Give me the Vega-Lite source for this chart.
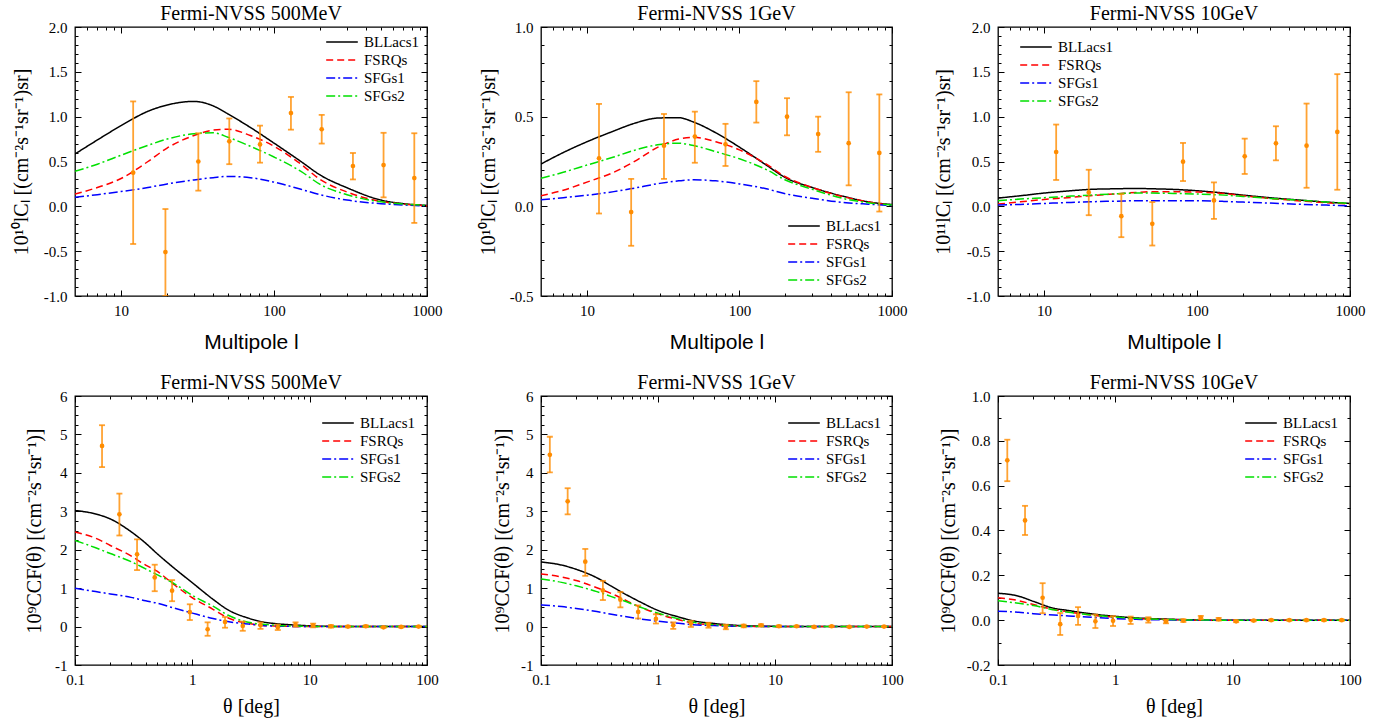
{
"$schema": "https://vega.github.io/schema/vega-lite/v6.json",
"background": "white",
"padding": {"left": 10, "top": 3, "right": 5, "bottom": 2},
"config": {
  "view": {"stroke": "black", "strokeWidth": 1.3},
  "font": "Liberation Serif",
  "title": {"font": "Liberation Serif", "fontSize": 20, "fontWeight": "normal", "color": "black", "offset": -4, "frame": "group"},
  "axis": {"labelFont": "Liberation Serif", "labelFontSize": 15, "labelColor": "black", "tickColor": "black", "tickWidth": 1, "domain": false, "grid": false, "titleFont": "Liberation Serif", "titleFontSize": 20, "titleFontWeight": "normal", "titleColor": "black", "labelFlush": false, "labelOverlap": false, "labelBound": false},
  "legend": {"title": null, "orient": "none", "symbolType": "stroke", "symbolSize": 1000, "symbolStrokeWidth": 1.5, "labelFont": "Liberation Serif", "labelFontSize": 15, "labelColor": "black", "clipHeight": 16, "rowPadding": 2, "labelOffset": 5, "padding": 0}
},
"datasets": {
"c1": [
{"x":5,"v":0.584,"m":"BLLacs1"},{"x":7,"v":0.74,"m":"BLLacs1"},{"x":10,"v":0.90,"m":"BLLacs1"},{"x":15,"v":1.06,"m":"BLLacs1"},{"x":20,"v":1.13,"m":"BLLacs1"},{"x":30,"v":1.17,"m":"BLLacs1"},{"x":40,"v":1.12,"m":"BLLacs1"},{"x":50,"v":1.03,"m":"BLLacs1"},{"x":70,"v":0.88,"m":"BLLacs1"},{"x":100,"v":0.705,"m":"BLLacs1"},{"x":150,"v":0.50,"m":"BLLacs1"},{"x":200,"v":0.35,"m":"BLLacs1"},{"x":300,"v":0.207,"m":"BLLacs1"},{"x":500,"v":0.07,"m":"BLLacs1"},{"x":700,"v":0.03,"m":"BLLacs1"},{"x":1000,"v":0.01,"m":"BLLacs1"},
{"x":5,"v":0.136,"m":"FSRQs"},{"x":7,"v":0.21,"m":"FSRQs"},{"x":10,"v":0.31,"m":"FSRQs"},{"x":15,"v":0.50,"m":"FSRQs"},{"x":20,"v":0.65,"m":"FSRQs"},{"x":30,"v":0.79,"m":"FSRQs"},{"x":40,"v":0.85,"m":"FSRQs"},{"x":50,"v":0.86,"m":"FSRQs"},{"x":70,"v":0.79,"m":"FSRQs"},{"x":100,"v":0.67,"m":"FSRQs"},{"x":150,"v":0.47,"m":"FSRQs"},{"x":200,"v":0.30,"m":"FSRQs"},{"x":300,"v":0.16,"m":"FSRQs"},{"x":500,"v":0.055,"m":"FSRQs"},{"x":700,"v":0.025,"m":"FSRQs"},{"x":1000,"v":0.005,"m":"FSRQs"},
{"x":5,"v":0.10,"m":"SFGs1"},{"x":7,"v":0.13,"m":"SFGs1"},{"x":10,"v":0.165,"m":"SFGs1"},{"x":15,"v":0.21,"m":"SFGs1"},{"x":20,"v":0.25,"m":"SFGs1"},{"x":30,"v":0.295,"m":"SFGs1"},{"x":40,"v":0.32,"m":"SFGs1"},{"x":50,"v":0.334,"m":"SFGs1"},{"x":70,"v":0.32,"m":"SFGs1"},{"x":100,"v":0.27,"m":"SFGs1"},{"x":150,"v":0.19,"m":"SFGs1"},{"x":200,"v":0.13,"m":"SFGs1"},{"x":300,"v":0.07,"m":"SFGs1"},{"x":500,"v":0.03,"m":"SFGs1"},{"x":700,"v":0.015,"m":"SFGs1"},{"x":1000,"v":0.005,"m":"SFGs1"},
{"x":5,"v":0.39,"m":"SFGs2"},{"x":7,"v":0.47,"m":"SFGs2"},{"x":10,"v":0.57,"m":"SFGs2"},{"x":15,"v":0.68,"m":"SFGs2"},{"x":20,"v":0.75,"m":"SFGs2"},{"x":30,"v":0.81,"m":"SFGs2"},{"x":40,"v":0.82,"m":"SFGs2"},{"x":50,"v":0.77,"m":"SFGs2"},{"x":70,"v":0.67,"m":"SFGs2"},{"x":100,"v":0.55,"m":"SFGs2"},{"x":150,"v":0.39,"m":"SFGs2"},{"x":200,"v":0.245,"m":"SFGs2"},{"x":300,"v":0.13,"m":"SFGs2"},{"x":500,"v":0.05,"m":"SFGs2"},{"x":700,"v":0.025,"m":"SFGs2"},{"x":1000,"v":0.01,"m":"SFGs2"}
],
"c2": [
{"x":5,"v":0.236,"m":"BLLacs1"},{"x":7,"v":0.30,"m":"BLLacs1"},{"x":10,"v":0.36,"m":"BLLacs1"},{"x":15,"v":0.42,"m":"BLLacs1"},{"x":20,"v":0.46,"m":"BLLacs1"},{"x":30,"v":0.493,"m":"BLLacs1"},{"x":40,"v":0.494,"m":"BLLacs1"},{"x":50,"v":0.47,"m":"BLLacs1"},{"x":70,"v":0.41,"m":"BLLacs1"},{"x":100,"v":0.33,"m":"BLLacs1"},{"x":150,"v":0.23,"m":"BLLacs1"},{"x":200,"v":0.16,"m":"BLLacs1"},{"x":300,"v":0.105,"m":"BLLacs1"},{"x":500,"v":0.052,"m":"BLLacs1"},{"x":700,"v":0.025,"m":"BLLacs1"},{"x":1000,"v":0.01,"m":"BLLacs1"},
{"x":5,"v":0.059,"m":"FSRQs"},{"x":7,"v":0.09,"m":"FSRQs"},{"x":10,"v":0.135,"m":"FSRQs"},{"x":15,"v":0.19,"m":"FSRQs"},{"x":20,"v":0.245,"m":"FSRQs"},{"x":30,"v":0.335,"m":"FSRQs"},{"x":40,"v":0.375,"m":"FSRQs"},{"x":50,"v":0.385,"m":"FSRQs"},{"x":70,"v":0.36,"m":"FSRQs"},{"x":100,"v":0.315,"m":"FSRQs"},{"x":150,"v":0.235,"m":"FSRQs"},{"x":200,"v":0.165,"m":"FSRQs"},{"x":300,"v":0.105,"m":"FSRQs"},{"x":500,"v":0.05,"m":"FSRQs"},{"x":700,"v":0.025,"m":"FSRQs"},{"x":1000,"v":0.005,"m":"FSRQs"},
{"x":5,"v":0.036,"m":"SFGs1"},{"x":7,"v":0.048,"m":"SFGs1"},{"x":10,"v":0.062,"m":"SFGs1"},{"x":15,"v":0.082,"m":"SFGs1"},{"x":20,"v":0.10,"m":"SFGs1"},{"x":30,"v":0.128,"m":"SFGs1"},{"x":40,"v":0.142,"m":"SFGs1"},{"x":50,"v":0.148,"m":"SFGs1"},{"x":70,"v":0.142,"m":"SFGs1"},{"x":100,"v":0.125,"m":"SFGs1"},{"x":150,"v":0.098,"m":"SFGs1"},{"x":200,"v":0.07,"m":"SFGs1"},{"x":300,"v":0.045,"m":"SFGs1"},{"x":500,"v":0.02,"m":"SFGs1"},{"x":700,"v":0.012,"m":"SFGs1"},{"x":1000,"v":0.005,"m":"SFGs1"},
{"x":5,"v":0.156,"m":"SFGs2"},{"x":7,"v":0.19,"m":"SFGs2"},{"x":10,"v":0.23,"m":"SFGs2"},{"x":15,"v":0.275,"m":"SFGs2"},{"x":20,"v":0.31,"m":"SFGs2"},{"x":30,"v":0.345,"m":"SFGs2"},{"x":40,"v":0.352,"m":"SFGs2"},{"x":50,"v":0.339,"m":"SFGs2"},{"x":70,"v":0.305,"m":"SFGs2"},{"x":100,"v":0.265,"m":"SFGs2"},{"x":150,"v":0.205,"m":"SFGs2"},{"x":200,"v":0.147,"m":"SFGs2"},{"x":300,"v":0.095,"m":"SFGs2"},{"x":500,"v":0.04,"m":"SFGs2"},{"x":700,"v":0.02,"m":"SFGs2"},{"x":1000,"v":0.007,"m":"SFGs2"}
],
"c3": [
{"x":5,"v":0.092,"m":"BLLacs1"},{"x":7,"v":0.118,"m":"BLLacs1"},{"x":10,"v":0.148,"m":"BLLacs1"},{"x":15,"v":0.174,"m":"BLLacs1"},{"x":20,"v":0.189,"m":"BLLacs1"},{"x":30,"v":0.196,"m":"BLLacs1"},{"x":40,"v":0.2,"m":"BLLacs1"},{"x":50,"v":0.196,"m":"BLLacs1"},{"x":70,"v":0.189,"m":"BLLacs1"},{"x":100,"v":0.174,"m":"BLLacs1"},{"x":150,"v":0.148,"m":"BLLacs1"},{"x":200,"v":0.125,"m":"BLLacs1"},{"x":300,"v":0.096,"m":"BLLacs1"},{"x":500,"v":0.066,"m":"BLLacs1"},{"x":700,"v":0.047,"m":"BLLacs1"},{"x":1000,"v":0.032,"m":"BLLacs1"},
{"x":5,"v":0.025,"m":"FSRQs"},{"x":7,"v":0.05,"m":"FSRQs"},{"x":10,"v":0.077,"m":"FSRQs"},{"x":15,"v":0.1,"m":"FSRQs"},{"x":20,"v":0.118,"m":"FSRQs"},{"x":30,"v":0.14,"m":"FSRQs"},{"x":40,"v":0.155,"m":"FSRQs"},{"x":50,"v":0.163,"m":"FSRQs"},{"x":70,"v":0.163,"m":"FSRQs"},{"x":100,"v":0.159,"m":"FSRQs"},{"x":150,"v":0.144,"m":"FSRQs"},{"x":200,"v":0.118,"m":"FSRQs"},{"x":300,"v":0.088,"m":"FSRQs"},{"x":500,"v":0.058,"m":"FSRQs"},{"x":700,"v":0.04,"m":"FSRQs"},{"x":1000,"v":0.028,"m":"FSRQs"},
{"x":5,"v":0.014,"m":"SFGs1"},{"x":7,"v":0.021,"m":"SFGs1"},{"x":10,"v":0.032,"m":"SFGs1"},{"x":15,"v":0.044,"m":"SFGs1"},{"x":20,"v":0.051,"m":"SFGs1"},{"x":30,"v":0.058,"m":"SFGs1"},{"x":40,"v":0.062,"m":"SFGs1"},{"x":50,"v":0.062,"m":"SFGs1"},{"x":70,"v":0.062,"m":"SFGs1"},{"x":100,"v":0.062,"m":"SFGs1"},{"x":150,"v":0.055,"m":"SFGs1"},{"x":200,"v":0.047,"m":"SFGs1"},{"x":300,"v":0.036,"m":"SFGs1"},{"x":500,"v":0.021,"m":"SFGs1"},{"x":700,"v":0.014,"m":"SFGs1"},{"x":1000,"v":0.006,"m":"SFGs1"},
{"x":5,"v":0.062,"m":"SFGs2"},{"x":7,"v":0.081,"m":"SFGs2"},{"x":10,"v":0.096,"m":"SFGs2"},{"x":15,"v":0.114,"m":"SFGs2"},{"x":20,"v":0.125,"m":"SFGs2"},{"x":30,"v":0.14,"m":"SFGs2"},{"x":40,"v":0.148,"m":"SFGs2"},{"x":50,"v":0.148,"m":"SFGs2"},{"x":70,"v":0.144,"m":"SFGs2"},{"x":100,"v":0.137,"m":"SFGs2"},{"x":150,"v":0.125,"m":"SFGs2"},{"x":200,"v":0.11,"m":"SFGs2"},{"x":300,"v":0.088,"m":"SFGs2"},{"x":500,"v":0.066,"m":"SFGs2"},{"x":700,"v":0.047,"m":"SFGs2"},{"x":1000,"v":0.032,"m":"SFGs2"}
],
"c4": [
{"x":0.1,"v":3.02,"m":"BLLacs1"},{"x":0.15,"v":2.93,"m":"BLLacs1"},{"x":0.2,"v":2.80,"m":"BLLacs1"},{"x":0.3,"v":2.47,"m":"BLLacs1"},{"x":0.4,"v":2.17,"m":"BLLacs1"},{"x":0.5,"v":1.90,"m":"BLLacs1"},{"x":0.7,"v":1.52,"m":"BLLacs1"},{"x":1,"v":1.14,"m":"BLLacs1"},{"x":1.5,"v":0.71,"m":"BLLacs1"},{"x":2,"v":0.44,"m":"BLLacs1"},{"x":3,"v":0.22,"m":"BLLacs1"},{"x":4,"v":0.12,"m":"BLLacs1"},{"x":5,"v":0.08,"m":"BLLacs1"},{"x":7,"v":0.045,"m":"BLLacs1"},{"x":10,"v":0.02,"m":"BLLacs1"},{"x":20,"v":0,"m":"BLLacs1"},{"x":100,"v":0,"m":"BLLacs1"},
{"x":0.1,"v":2.46,"m":"FSRQs"},{"x":0.15,"v":2.30,"m":"FSRQs"},{"x":0.2,"v":2.11,"m":"FSRQs"},{"x":0.3,"v":1.84,"m":"FSRQs"},{"x":0.4,"v":1.60,"m":"FSRQs"},{"x":0.5,"v":1.44,"m":"FSRQs"},{"x":0.7,"v":1.09,"m":"FSRQs"},{"x":1,"v":0.75,"m":"FSRQs"},{"x":1.5,"v":0.45,"m":"FSRQs"},{"x":2,"v":0.23,"m":"FSRQs"},{"x":3,"v":0.08,"m":"FSRQs"},{"x":4,"v":0.03,"m":"FSRQs"},{"x":5,"v":0.015,"m":"FSRQs"},{"x":7,"v":0.005,"m":"FSRQs"},{"x":10,"v":0,"m":"FSRQs"},{"x":20,"v":0,"m":"FSRQs"},{"x":100,"v":0,"m":"FSRQs"},
{"x":0.1,"v":1.0,"m":"SFGs1"},{"x":0.15,"v":0.91,"m":"SFGs1"},{"x":0.2,"v":0.85,"m":"SFGs1"},{"x":0.3,"v":0.76,"m":"SFGs1"},{"x":0.4,"v":0.67,"m":"SFGs1"},{"x":0.5,"v":0.61,"m":"SFGs1"},{"x":0.7,"v":0.48,"m":"SFGs1"},{"x":1,"v":0.35,"m":"SFGs1"},{"x":1.5,"v":0.21,"m":"SFGs1"},{"x":2,"v":0.13,"m":"SFGs1"},{"x":3,"v":0.065,"m":"SFGs1"},{"x":4,"v":0.03,"m":"SFGs1"},{"x":5,"v":0.015,"m":"SFGs1"},{"x":7,"v":0.005,"m":"SFGs1"},{"x":10,"v":0,"m":"SFGs1"},{"x":20,"v":0,"m":"SFGs1"},{"x":100,"v":0,"m":"SFGs1"},
{"x":0.1,"v":2.24,"m":"SFGs2"},{"x":0.15,"v":2.05,"m":"SFGs2"},{"x":0.2,"v":1.90,"m":"SFGs2"},{"x":0.3,"v":1.69,"m":"SFGs2"},{"x":0.4,"v":1.50,"m":"SFGs2"},{"x":0.5,"v":1.35,"m":"SFGs2"},{"x":0.7,"v":1.12,"m":"SFGs2"},{"x":1,"v":0.81,"m":"SFGs2"},{"x":1.5,"v":0.53,"m":"SFGs2"},{"x":2,"v":0.30,"m":"SFGs2"},{"x":3,"v":0.11,"m":"SFGs2"},{"x":4,"v":0.06,"m":"SFGs2"},{"x":5,"v":0.035,"m":"SFGs2"},{"x":7,"v":0.015,"m":"SFGs2"},{"x":10,"v":0.005,"m":"SFGs2"},{"x":20,"v":0,"m":"SFGs2"},{"x":100,"v":0,"m":"SFGs2"}
],
"c5": [
{"x":0.1,"v":1.68,"m":"BLLacs1"},{"x":0.15,"v":1.60,"m":"BLLacs1"},{"x":0.2,"v":1.49,"m":"BLLacs1"},{"x":0.3,"v":1.27,"m":"BLLacs1"},{"x":0.4,"v":1.05,"m":"BLLacs1"},{"x":0.5,"v":0.88,"m":"BLLacs1"},{"x":0.7,"v":0.645,"m":"BLLacs1"},{"x":1,"v":0.42,"m":"BLLacs1"},{"x":1.5,"v":0.25,"m":"BLLacs1"},{"x":2,"v":0.15,"m":"BLLacs1"},{"x":3,"v":0.08,"m":"BLLacs1"},{"x":4,"v":0.045,"m":"BLLacs1"},{"x":5,"v":0.027,"m":"BLLacs1"},{"x":7,"v":0.012,"m":"BLLacs1"},{"x":10,"v":0.005,"m":"BLLacs1"},{"x":20,"v":0,"m":"BLLacs1"},{"x":100,"v":0,"m":"BLLacs1"},
{"x":0.1,"v":1.37,"m":"FSRQs"},{"x":0.15,"v":1.29,"m":"FSRQs"},{"x":0.2,"v":1.20,"m":"FSRQs"},{"x":0.3,"v":1.01,"m":"FSRQs"},{"x":0.4,"v":0.86,"m":"FSRQs"},{"x":0.5,"v":0.72,"m":"FSRQs"},{"x":0.7,"v":0.51,"m":"FSRQs"},{"x":1,"v":0.33,"m":"FSRQs"},{"x":1.5,"v":0.18,"m":"FSRQs"},{"x":2,"v":0.09,"m":"FSRQs"},{"x":3,"v":0.045,"m":"FSRQs"},{"x":4,"v":0.02,"m":"FSRQs"},{"x":5,"v":0.01,"m":"FSRQs"},{"x":7,"v":0.004,"m":"FSRQs"},{"x":10,"v":0,"m":"FSRQs"},{"x":20,"v":0,"m":"FSRQs"},{"x":100,"v":0,"m":"FSRQs"},
{"x":0.1,"v":0.565,"m":"SFGs1"},{"x":0.15,"v":0.52,"m":"SFGs1"},{"x":0.2,"v":0.47,"m":"SFGs1"},{"x":0.3,"v":0.39,"m":"SFGs1"},{"x":0.4,"v":0.32,"m":"SFGs1"},{"x":0.5,"v":0.27,"m":"SFGs1"},{"x":0.7,"v":0.20,"m":"SFGs1"},{"x":1,"v":0.14,"m":"SFGs1"},{"x":1.5,"v":0.085,"m":"SFGs1"},{"x":2,"v":0.048,"m":"SFGs1"},{"x":3,"v":0.025,"m":"SFGs1"},{"x":4,"v":0.012,"m":"SFGs1"},{"x":5,"v":0.006,"m":"SFGs1"},{"x":7,"v":0.002,"m":"SFGs1"},{"x":10,"v":0,"m":"SFGs1"},{"x":20,"v":0,"m":"SFGs1"},{"x":100,"v":0,"m":"SFGs1"},
{"x":0.1,"v":1.24,"m":"SFGs2"},{"x":0.15,"v":1.15,"m":"SFGs2"},{"x":0.2,"v":1.06,"m":"SFGs2"},{"x":0.3,"v":0.91,"m":"SFGs2"},{"x":0.4,"v":0.78,"m":"SFGs2"},{"x":0.5,"v":0.68,"m":"SFGs2"},{"x":0.7,"v":0.51,"m":"SFGs2"},{"x":1,"v":0.35,"m":"SFGs2"},{"x":1.5,"v":0.20,"m":"SFGs2"},{"x":2,"v":0.11,"m":"SFGs2"},{"x":3,"v":0.05,"m":"SFGs2"},{"x":4,"v":0.025,"m":"SFGs2"},{"x":5,"v":0.015,"m":"SFGs2"},{"x":7,"v":0.006,"m":"SFGs2"},{"x":10,"v":0.002,"m":"SFGs2"},{"x":20,"v":0,"m":"SFGs2"},{"x":100,"v":0,"m":"SFGs2"}
],
"c6": [
{"x":0.1,"v":0.12,"m":"BLLacs1"},{"x":0.15,"v":0.107,"m":"BLLacs1"},{"x":0.2,"v":0.084,"m":"BLLacs1"},{"x":0.3,"v":0.053,"m":"BLLacs1"},{"x":0.4,"v":0.043,"m":"BLLacs1"},{"x":0.5,"v":0.035,"m":"BLLacs1"},{"x":0.7,"v":0.025,"m":"BLLacs1"},{"x":1,"v":0.017,"m":"BLLacs1"},{"x":1.5,"v":0.01,"m":"BLLacs1"},{"x":2,"v":0.007,"m":"BLLacs1"},{"x":3,"v":0.004,"m":"BLLacs1"},{"x":4,"v":0.002,"m":"BLLacs1"},{"x":5,"v":0.001,"m":"BLLacs1"},{"x":7,"v":0,"m":"BLLacs1"},{"x":10,"v":0,"m":"BLLacs1"},{"x":20,"v":0,"m":"BLLacs1"},{"x":100,"v":0,"m":"BLLacs1"},
{"x":0.1,"v":0.10,"m":"FSRQs"},{"x":0.15,"v":0.087,"m":"FSRQs"},{"x":0.2,"v":0.07,"m":"FSRQs"},{"x":0.3,"v":0.047,"m":"FSRQs"},{"x":0.4,"v":0.037,"m":"FSRQs"},{"x":0.5,"v":0.029,"m":"FSRQs"},{"x":0.7,"v":0.02,"m":"FSRQs"},{"x":1,"v":0.013,"m":"FSRQs"},{"x":1.5,"v":0.007,"m":"FSRQs"},{"x":2,"v":0.005,"m":"FSRQs"},{"x":3,"v":0.003,"m":"FSRQs"},{"x":4,"v":0.001,"m":"FSRQs"},{"x":5,"v":0,"m":"FSRQs"},{"x":7,"v":0,"m":"FSRQs"},{"x":10,"v":0,"m":"FSRQs"},{"x":20,"v":0,"m":"FSRQs"},{"x":100,"v":0,"m":"FSRQs"},
{"x":0.1,"v":0.04,"m":"SFGs1"},{"x":0.15,"v":0.035,"m":"SFGs1"},{"x":0.2,"v":0.029,"m":"SFGs1"},{"x":0.3,"v":0.023,"m":"SFGs1"},{"x":0.4,"v":0.019,"m":"SFGs1"},{"x":0.5,"v":0.016,"m":"SFGs1"},{"x":0.7,"v":0.011,"m":"SFGs1"},{"x":1,"v":0.007,"m":"SFGs1"},{"x":1.5,"v":0.004,"m":"SFGs1"},{"x":2,"v":0.002,"m":"SFGs1"},{"x":3,"v":0.001,"m":"SFGs1"},{"x":4,"v":0,"m":"SFGs1"},{"x":5,"v":0,"m":"SFGs1"},{"x":7,"v":0,"m":"SFGs1"},{"x":10,"v":0,"m":"SFGs1"},{"x":20,"v":0,"m":"SFGs1"},{"x":100,"v":0,"m":"SFGs1"},
{"x":0.1,"v":0.087,"m":"SFGs2"},{"x":0.15,"v":0.075,"m":"SFGs2"},{"x":0.2,"v":0.065,"m":"SFGs2"},{"x":0.3,"v":0.046,"m":"SFGs2"},{"x":0.4,"v":0.035,"m":"SFGs2"},{"x":0.5,"v":0.029,"m":"SFGs2"},{"x":0.7,"v":0.02,"m":"SFGs2"},{"x":1,"v":0.014,"m":"SFGs2"},{"x":1.5,"v":0.008,"m":"SFGs2"},{"x":2,"v":0.005,"m":"SFGs2"},{"x":3,"v":0.003,"m":"SFGs2"},{"x":4,"v":0.001,"m":"SFGs2"},{"x":5,"v":0.001,"m":"SFGs2"},{"x":7,"v":0,"m":"SFGs2"},{"x":10,"v":0,"m":"SFGs2"},{"x":20,"v":0,"m":"SFGs2"},{"x":100,"v":0,"m":"SFGs2"}
],
"d1": [
{"x":12,"v":0.375,"lo":-0.42,"hi":1.17},{"x":19.5,"v":-0.51,"lo":-1.0,"hi":-0.03},{"x":32,"v":0.5,"lo":0.175,"hi":0.815},{"x":51,"v":0.725,"lo":0.47,"hi":0.98},{"x":81,"v":0.69,"lo":0.487,"hi":0.9},{"x":129,"v":1.04,"lo":0.855,"hi":1.22},{"x":205,"v":0.86,"lo":0.7,"hi":1.02},{"x":328,"v":0.45,"lo":0.3,"hi":0.595},{"x":520,"v":0.46,"lo":0.1,"hi":0.82},{"x":826,"v":0.315,"lo":-0.185,"hi":0.815}
],
"d2": [
{"x":12,"v":0.268,"lo":-0.04,"hi":0.571},{"x":19.5,"v":-0.032,"lo":-0.22,"hi":0.153},{"x":32,"v":0.338,"lo":0.153,"hi":0.515},{"x":51,"v":0.389,"lo":0.243,"hi":0.528},{"x":81,"v":0.346,"lo":0.225,"hi":0.46},{"x":129,"v":0.582,"lo":0.467,"hi":0.698},{"x":205,"v":0.5,"lo":0.396,"hi":0.603},{"x":328,"v":0.403,"lo":0.304,"hi":0.5},{"x":520,"v":0.352,"lo":0.117,"hi":0.636},{"x":826,"v":0.298,"lo":-0.029,"hi":0.624}
],
"d3": [
{"x":12,"v":0.606,"lo":0.294,"hi":0.912},{"x":19.6,"v":0.155,"lo":-0.099,"hi":0.408},{"x":32,"v":-0.11,"lo":-0.344,"hi":0.137},{"x":51,"v":-0.195,"lo":-0.437,"hi":0.047},{"x":81,"v":0.498,"lo":0.282,"hi":0.707},{"x":129,"v":0.066,"lo":-0.14,"hi":0.267},{"x":205,"v":0.558,"lo":0.361,"hi":0.755},{"x":328,"v":0.703,"lo":0.513,"hi":0.893},{"x":520,"v":0.677,"lo":0.207,"hi":1.146},{"x":826,"v":0.83,"lo":0.185,"hi":1.474}
],
"d4": [
{"x":0.17,"v":4.7,"lo":4.15,"hi":5.24},{"x":0.239,"v":2.92,"lo":2.37,"hi":3.46},{"x":0.338,"v":1.88,"lo":1.47,"hi":2.27},{"x":0.478,"v":1.28,"lo":0.92,"hi":1.61},{"x":0.672,"v":0.935,"lo":0.66,"hi":1.21},{"x":0.952,"v":0.375,"lo":0.17,"hi":0.58},{"x":1.35,"v":-0.07,"lo":-0.24,"hi":0.11},{"x":1.9,"v":0.12,"lo":-0.03,"hi":0.25},{"x":2.69,"v":0.017,"lo":-0.11,"hi":0.13},{"x":3.81,"v":0.034,"lo":-0.06,"hi":0.11},{"x":5.35,"v":-0.02,"lo":-0.09,"hi":0.05},{"x":7.58,"v":0.05,"lo":0,"hi":0.11},{"x":10.7,"v":0.034,"lo":-0.02,"hi":0.077},{"x":15.2,"v":0.008,"lo":-0.03,"hi":0.04},{"x":21.2,"v":0,"lo":-0.02,"hi":0.02},{"x":30.1,"v":0.008,"lo":-0.015,"hi":0.03},{"x":42.6,"v":-0.02,"lo":-0.035,"hi":-0.005},{"x":60.2,"v":-0.01,"lo":-0.025,"hi":0.005},{"x":84.8,"v":0,"lo":-0.015,"hi":0.015}
],
"d5": [
{"x":0.119,"v":4.47,"lo":4.01,"hi":4.94},{"x":0.169,"v":3.26,"lo":2.92,"hi":3.6},{"x":0.239,"v":1.69,"lo":1.32,"hi":2.02},{"x":0.338,"v":0.94,"lo":0.69,"hi":1.19},{"x":0.477,"v":0.7,"lo":0.5,"hi":0.9},{"x":0.677,"v":0.38,"lo":0.21,"hi":0.55},{"x":0.96,"v":0.2,"lo":0.08,"hi":0.32},{"x":1.35,"v":0.034,"lo":-0.06,"hi":0.11},{"x":1.91,"v":0.077,"lo":-0.01,"hi":0.15},{"x":2.7,"v":0.043,"lo":-0.03,"hi":0.1},{"x":3.8,"v":-0.01,"lo":-0.07,"hi":0.05},{"x":5.4,"v":0.017,"lo":-0.02,"hi":0.05},{"x":7.6,"v":0.034,"lo":0.005,"hi":0.06},{"x":10.8,"v":0.008,"lo":-0.015,"hi":0.03},{"x":15.3,"v":0.008,"lo":-0.01,"hi":0.025},{"x":21.6,"v":-0.01,"lo":-0.025,"hi":0.005},{"x":30.5,"v":0.008,"lo":-0.005,"hi":0.02},{"x":43.2,"v":-0.01,"lo":-0.02,"hi":0},{"x":60.9,"v":0,"lo":-0.01,"hi":0.01},{"x":85.5,"v":0,"lo":-0.01,"hi":0.01}
],
"d6": [
{"x":0.12,"v":0.713,"lo":0.62,"hi":0.805},{"x":0.17,"v":0.445,"lo":0.38,"hi":0.51},{"x":0.24,"v":0.1,"lo":0.031,"hi":0.165},{"x":0.339,"v":-0.018,"lo":-0.066,"hi":0.032},{"x":0.481,"v":0.019,"lo":-0.021,"hi":0.058},{"x":0.676,"v":-0.005,"lo":-0.035,"hi":0.025},{"x":0.956,"v":-0.003,"lo":-0.026,"hi":0.018},{"x":1.35,"v":0.001,"lo":-0.017,"hi":0.016},{"x":1.91,"v":0.003,"lo":-0.011,"hi":0.013},{"x":2.7,"v":-0.006,"lo":-0.014,"hi":0.001},{"x":3.8,"v":-0.002,"lo":-0.008,"hi":0.004},{"x":5.35,"v":0.012,"lo":0.004,"hi":0.019},{"x":7.6,"v":0.004,"lo":-0.002,"hi":0.01},{"x":10.7,"v":-0.005,"lo":-0.009,"hi":-0.001},{"x":15.1,"v":-0.002,"lo":-0.005,"hi":0.001},{"x":21.3,"v":0,"lo":-0.003,"hi":0.003},{"x":30.4,"v":0,"lo":-0.003,"hi":0.003},{"x":42.5,"v":0,"lo":-0.003,"hi":0.003},{"x":60,"v":0,"lo":-0.003,"hi":0.003},{"x":85,"v":0,"lo":-0.003,"hi":0.003}
]
},
"vconcat": [
{"hconcat": [
{"width": 352, "height": 269, "title": "Fermi-NVSS 500MeV",
 "resolve": {"axis": {"x": "independent", "y": "independent"}},
 "layer": [
  {"data": {"name": "c1"}, "mark": {"type": "line", "clip": true, "interpolate": "monotone", "strokeWidth": 1.5},
   "encoding": {
    "x": {"field": "x", "type": "quantitative", "scale": {"type": "log", "domain": [5, 1000], "nice": false}, "axis": {"orient": "bottom", "values": [10, 100, 1000], "format": "d", "offset": -6, "tickSize": 6, "labelPadding": 7, "title": "Multipole l", "titleFont": "Liberation Sans", "titleFontSize": 21, "titlePadding": 13}},
    "y": {"field": "v", "type": "quantitative", "scale": {"domain": [-1, 2], "nice": false, "zero": false}, "axis": {"orient": "left", "values": [-1, -0.5, 0, 0.5, 1, 1.5, 2], "labelExpr": "replace(format(datum.value,'.1f'),'\u2212','-')", "offset": -6, "tickSize": 6, "labelPadding": 8, "title": "10¹⁰lCₗ [(cm⁻²s⁻¹sr⁻¹)sr]", "titlePadding": 12}},
    "color": {"field": "m", "type": "nominal", "scale": {"domain": ["BLLacs1", "FSRQs", "SFGs1", "SFGs2"], "range": ["#000000", "#ff0000", "#0000ff", "#00e000"]}, "legend": {"legendX": 250, "legendY": 7}},
    "strokeDash": {"field": "m", "type": "nominal", "scale": {"domain": ["BLLacs1", "FSRQs", "SFGs1", "SFGs2"], "range": [[1, 0], [7, 4], [9, 3, 2, 3], [9, 3, 2, 3]]}, "legend": {"legendX": 250, "legendY": 7}}
   }},
  {"data": {"name": "d1"}, "mark": {"type": "errorbar", "color": "#ff8c00", "opacity": 0.8, "thickness": 1.8, "ticks": {"size": 6}, "clip": true},
   "encoding": {
    "x": {"field": "x", "type": "quantitative", "scale": {"type": "log", "domain": [5, 1000], "nice": false}, "axis": {"orient": "bottom", "values": [6, 7, 8, 9, 20, 30, 40, 50, 60, 70, 80, 90, 200, 300, 400, 500, 600, 700, 800, 900], "offset": -3, "tickSize": 3, "labels": false, "title": null}},
    "y": {"field": "lo", "type": "quantitative", "scale": {"domain": [-1, 2], "nice": false, "zero": false}, "axis": {"orient": "left", "values": [-0.9, -0.8, -0.7, -0.6, -0.4, -0.3, -0.2, -0.1, 0.1, 0.2, 0.3, 0.4, 0.6, 0.7, 0.8, 0.9, 1.1, 1.2, 1.3, 1.4, 1.6, 1.7, 1.8, 1.9], "offset": -3, "tickSize": 3, "labels": false, "title": null}},
    "y2": {"field": "hi"}
   }},
  {"data": {"name": "d1"}, "mark": {"type": "circle", "size": 22, "color": "#ff8c00", "opacity": 1, "clip": true},
   "encoding": {
    "x": {"field": "x", "type": "quantitative", "scale": {"type": "log", "domain": [5, 1000], "nice": false}, "axis": {"orient": "top", "values": [10, 100, 1000], "offset": -6, "tickSize": 6, "labels": false, "title": null}},
    "y": {"field": "v", "type": "quantitative", "scale": {"domain": [-1, 2], "nice": false, "zero": false}, "axis": {"orient": "right", "values": [-1, -0.5, 0, 0.5, 1, 1.5, 2], "offset": -6, "tickSize": 6, "labels": false, "title": null}}
   }},
  {"data": {"name": "d1"}, "mark": {"type": "point", "opacity": 0},
   "encoding": {
    "x": {"field": "x", "type": "quantitative", "scale": {"type": "log", "domain": [5, 1000], "nice": false}, "axis": {"orient": "top", "values": [6, 7, 8, 9, 20, 30, 40, 50, 60, 70, 80, 90, 200, 300, 400, 500, 600, 700, 800, 900], "offset": -3, "tickSize": 3, "labels": false, "title": null}},
    "y": {"field": "v", "type": "quantitative", "scale": {"domain": [-1, 2], "nice": false, "zero": false}, "axis": {"orient": "right", "values": [-0.9, -0.8, -0.7, -0.6, -0.4, -0.3, -0.2, -0.1, 0.1, 0.2, 0.3, 0.4, 0.6, 0.7, 0.8, 0.9, 1.1, 1.2, 1.3, 1.4, 1.6, 1.7, 1.8, 1.9], "offset": -3, "tickSize": 3, "labels": false, "title": null}}
   }}
 ]},
{"hconcat": [
{"width": 351, "height": 269, "title": "Fermi-NVSS 1GeV",
 "resolve": {"axis": {"x": "independent", "y": "independent"}},
 "layer": [
  {"data": {"name": "c2"}, "mark": {"type": "line", "clip": true, "interpolate": "monotone", "strokeWidth": 1.5},
   "encoding": {
    "x": {"field": "x", "type": "quantitative", "scale": {"type": "log", "domain": [5, 1000], "nice": false}, "axis": {"orient": "bottom", "values": [10, 100, 1000], "format": "d", "offset": -6, "tickSize": 6, "labelPadding": 7, "title": "Multipole l", "titleFont": "Liberation Sans", "titleFontSize": 21, "titlePadding": 13}},
    "y": {"field": "v", "type": "quantitative", "scale": {"domain": [-0.5, 1], "nice": false, "zero": false}, "axis": {"orient": "left", "values": [-0.5, 0, 0.5, 1], "labelExpr": "replace(format(datum.value,'.1f'),'\u2212','-')", "offset": -6, "tickSize": 6, "labelPadding": 8, "title": "10¹⁰lCₗ [(cm⁻²s⁻¹sr⁻¹)sr]", "titlePadding": 11}},
    "color": {"field": "m", "type": "nominal", "scale": {"domain": ["BLLacs1", "FSRQs", "SFGs1", "SFGs2"], "range": ["#000000", "#ff0000", "#0000ff", "#00e000"]}, "legend": {"legendX": 246, "legendY": 191}},
    "strokeDash": {"field": "m", "type": "nominal", "scale": {"domain": ["BLLacs1", "FSRQs", "SFGs1", "SFGs2"], "range": [[1, 0], [7, 4], [9, 3, 2, 3], [9, 3, 2, 3]]}, "legend": {"legendX": 246, "legendY": 191}}
   }},
  {"data": {"name": "d2"}, "mark": {"type": "errorbar", "color": "#ff8c00", "opacity": 0.8, "thickness": 1.8, "ticks": {"size": 6}, "clip": true},
   "encoding": {
    "x": {"field": "x", "type": "quantitative", "scale": {"type": "log", "domain": [5, 1000], "nice": false}, "axis": {"orient": "bottom", "values": [6, 7, 8, 9, 20, 30, 40, 50, 60, 70, 80, 90, 200, 300, 400, 500, 600, 700, 800, 900], "offset": -3, "tickSize": 3, "labels": false, "title": null}},
    "y": {"field": "lo", "type": "quantitative", "scale": {"domain": [-0.5, 1], "nice": false, "zero": false}, "axis": {"orient": "left", "values": [-0.4, -0.3, -0.2, -0.1, 0.1, 0.2, 0.3, 0.4, 0.6, 0.7, 0.8, 0.9], "offset": -3, "tickSize": 3, "labels": false, "title": null}},
    "y2": {"field": "hi"}
   }},
  {"data": {"name": "d2"}, "mark": {"type": "circle", "size": 22, "color": "#ff8c00", "opacity": 1, "clip": true},
   "encoding": {
    "x": {"field": "x", "type": "quantitative", "scale": {"type": "log", "domain": [5, 1000], "nice": false}, "axis": {"orient": "top", "values": [10, 100, 1000], "offset": -6, "tickSize": 6, "labels": false, "title": null}},
    "y": {"field": "v", "type": "quantitative", "scale": {"domain": [-0.5, 1], "nice": false, "zero": false}, "axis": {"orient": "right", "values": [-0.5, 0, 0.5, 1], "offset": -6, "tickSize": 6, "labels": false, "title": null}}
   }},
  {"data": {"name": "d2"}, "mark": {"type": "point", "opacity": 0},
   "encoding": {
    "x": {"field": "x", "type": "quantitative", "scale": {"type": "log", "domain": [5, 1000], "nice": false}, "axis": {"orient": "top", "values": [6, 7, 8, 9, 20, 30, 40, 50, 60, 70, 80, 90, 200, 300, 400, 500, 600, 700, 800, 900], "offset": -3, "tickSize": 3, "labels": false, "title": null}},
    "y": {"field": "v", "type": "quantitative", "scale": {"domain": [-0.5, 1], "nice": false, "zero": false}, "axis": {"orient": "right", "values": [-0.4, -0.3, -0.2, -0.1, 0.1, 0.2, 0.3, 0.4, 0.6, 0.7, 0.8, 0.9], "offset": -3, "tickSize": 3, "labels": false, "title": null}}
   }}
 ]},
{"width": 352, "height": 269, "title": "Fermi-NVSS 10GeV",
 "resolve": {"axis": {"x": "independent", "y": "independent"}},
 "layer": [
  {"data": {"name": "c3"}, "mark": {"type": "line", "clip": true, "interpolate": "monotone", "strokeWidth": 1.5},
   "encoding": {
    "x": {"field": "x", "type": "quantitative", "scale": {"type": "log", "domain": [5, 1000], "nice": false}, "axis": {"orient": "bottom", "values": [10, 100, 1000], "format": "d", "offset": -6, "tickSize": 6, "labelPadding": 7, "title": "Multipole l", "titleFont": "Liberation Sans", "titleFontSize": 21, "titlePadding": 13}},
    "y": {"field": "v", "type": "quantitative", "scale": {"domain": [-1, 2], "nice": false, "zero": false}, "axis": {"orient": "left", "values": [-1, -0.5, 0, 0.5, 1, 1.5, 2], "labelExpr": "replace(format(datum.value,'.1f'),'\u2212','-')", "offset": -6, "tickSize": 6, "labelPadding": 8, "title": "10¹¹lCₗ [(cm⁻²s⁻¹sr⁻¹)sr]", "titlePadding": 13}},
    "color": {"field": "m", "type": "nominal", "scale": {"domain": ["BLLacs1", "FSRQs", "SFGs1", "SFGs2"], "range": ["#000000", "#ff0000", "#0000ff", "#00e000"]}, "legend": {"legendX": 21, "legendY": 12}},
    "strokeDash": {"field": "m", "type": "nominal", "scale": {"domain": ["BLLacs1", "FSRQs", "SFGs1", "SFGs2"], "range": [[1, 0], [7, 4], [9, 3, 2, 3], [9, 3, 2, 3]]}, "legend": {"legendX": 21, "legendY": 12}}
   }},
  {"data": {"name": "d3"}, "mark": {"type": "errorbar", "color": "#ff8c00", "opacity": 0.8, "thickness": 1.8, "ticks": {"size": 6}, "clip": true},
   "encoding": {
    "x": {"field": "x", "type": "quantitative", "scale": {"type": "log", "domain": [5, 1000], "nice": false}, "axis": {"orient": "bottom", "values": [6, 7, 8, 9, 20, 30, 40, 50, 60, 70, 80, 90, 200, 300, 400, 500, 600, 700, 800, 900], "offset": -3, "tickSize": 3, "labels": false, "title": null}},
    "y": {"field": "lo", "type": "quantitative", "scale": {"domain": [-1, 2], "nice": false, "zero": false}, "axis": {"orient": "left", "values": [-0.9, -0.8, -0.7, -0.6, -0.4, -0.3, -0.2, -0.1, 0.1, 0.2, 0.3, 0.4, 0.6, 0.7, 0.8, 0.9, 1.1, 1.2, 1.3, 1.4, 1.6, 1.7, 1.8, 1.9], "offset": -3, "tickSize": 3, "labels": false, "title": null}},
    "y2": {"field": "hi"}
   }},
  {"data": {"name": "d3"}, "mark": {"type": "circle", "size": 22, "color": "#ff8c00", "opacity": 1, "clip": true},
   "encoding": {
    "x": {"field": "x", "type": "quantitative", "scale": {"type": "log", "domain": [5, 1000], "nice": false}, "axis": {"orient": "top", "values": [10, 100, 1000], "offset": -6, "tickSize": 6, "labels": false, "title": null}},
    "y": {"field": "v", "type": "quantitative", "scale": {"domain": [-1, 2], "nice": false, "zero": false}, "axis": {"orient": "right", "values": [-1, -0.5, 0, 0.5, 1, 1.5, 2], "offset": -6, "tickSize": 6, "labels": false, "title": null}}
   }},
  {"data": {"name": "d3"}, "mark": {"type": "point", "opacity": 0},
   "encoding": {
    "x": {"field": "x", "type": "quantitative", "scale": {"type": "log", "domain": [5, 1000], "nice": false}, "axis": {"orient": "top", "values": [6, 7, 8, 9, 20, 30, 40, 50, 60, 70, 80, 90, 200, 300, 400, 500, 600, 700, 800, 900], "offset": -3, "tickSize": 3, "labels": false, "title": null}},
    "y": {"field": "v", "type": "quantitative", "scale": {"domain": [-1, 2], "nice": false, "zero": false}, "axis": {"orient": "right", "values": [-0.9, -0.8, -0.7, -0.6, -0.4, -0.3, -0.2, -0.1, 0.1, 0.2, 0.3, 0.4, 0.6, 0.7, 0.8, 0.9, 1.1, 1.2, 1.3, 1.4, 1.6, 1.7, 1.8, 1.9], "offset": -3, "tickSize": 3, "labels": false, "title": null}}
   }}
 ]}
], "spacing": 106, "bounds": "flush", "resolve": {"scale": {"color": "independent", "strokeDash": "independent"}}}
], "spacing": 114, "bounds": "flush", "resolve": {"scale": {"color": "independent", "strokeDash": "independent"}}},
{"hconcat": [
{"width": 352, "height": 269, "title": "Fermi-NVSS 500MeV",
 "resolve": {"axis": {"x": "independent", "y": "independent"}},
 "layer": [
  {"data": {"name": "c4"}, "mark": {"type": "line", "clip": true, "interpolate": "monotone", "strokeWidth": 1.5},
   "encoding": {
    "x": {"field": "x", "type": "quantitative", "scale": {"type": "log", "domain": [0.1, 100], "nice": false}, "axis": {"orient": "bottom", "values": [0.1, 1, 10, 100], "format": "~g", "offset": -6, "tickSize": 6, "labelPadding": 7, "title": "θ [deg]", "titlePadding": 9}},
    "y": {"field": "v", "type": "quantitative", "scale": {"domain": [-1, 6], "nice": false, "zero": false}, "axis": {"orient": "left", "values": [-1, 0, 1, 2, 3, 4, 5, 6], "labelExpr": "replace(format(datum.value,'d'),'\u2212','-')", "offset": -6, "tickSize": 6, "labelPadding": 8, "title": "10⁹CCF(θ) [(cm⁻²s⁻¹sr⁻¹)]", "titlePadding": 10}},
    "color": {"field": "m", "type": "nominal", "scale": {"domain": ["BLLacs1", "FSRQs", "SFGs1", "SFGs2"], "range": ["#000000", "#ff0000", "#0000ff", "#00e000"]}, "legend": {"legendX": 246, "legendY": 19}},
    "strokeDash": {"field": "m", "type": "nominal", "scale": {"domain": ["BLLacs1", "FSRQs", "SFGs1", "SFGs2"], "range": [[1, 0], [7, 4], [9, 3, 2, 3], [9, 3, 2, 3]]}, "legend": {"legendX": 246, "legendY": 19}}
   }},
  {"data": {"name": "d4"}, "mark": {"type": "errorbar", "color": "#ff8c00", "opacity": 0.8, "thickness": 1.8, "ticks": {"size": 6}, "clip": true},
   "encoding": {
    "x": {"field": "x", "type": "quantitative", "scale": {"type": "log", "domain": [0.1, 100], "nice": false}, "axis": {"orient": "bottom", "values": [0.2, 0.3, 0.4, 0.5, 0.6, 0.7, 0.8, 0.9, 2, 3, 4, 5, 6, 7, 8, 9, 20, 30, 40, 50, 60, 70, 80, 90], "offset": -3, "tickSize": 3, "labels": false, "title": null}},
    "y": {"field": "lo", "type": "quantitative", "scale": {"domain": [-1, 6], "nice": false, "zero": false}, "axis": {"orient": "left", "values": [-0.75, -0.5, -0.25, 0.25, 0.5, 0.75, 1.25, 1.5, 1.75, 2.25, 2.5, 2.75, 3.25, 3.5, 3.75, 4.25, 4.5, 4.75, 5.25, 5.5, 5.75], "offset": -3, "tickSize": 3, "labels": false, "title": null}},
    "y2": {"field": "hi"}
   }},
  {"data": {"name": "d4"}, "mark": {"type": "circle", "size": 22, "color": "#ff8c00", "opacity": 1, "clip": true},
   "encoding": {
    "x": {"field": "x", "type": "quantitative", "scale": {"type": "log", "domain": [0.1, 100], "nice": false}, "axis": {"orient": "top", "values": [0.1, 1, 10, 100], "offset": -6, "tickSize": 6, "labels": false, "title": null}},
    "y": {"field": "v", "type": "quantitative", "scale": {"domain": [-1, 6], "nice": false, "zero": false}, "axis": {"orient": "right", "values": [-1, 0, 1, 2, 3, 4, 5, 6], "offset": -6, "tickSize": 6, "labels": false, "title": null}}
   }},
  {"data": {"name": "d4"}, "mark": {"type": "point", "opacity": 0},
   "encoding": {
    "x": {"field": "x", "type": "quantitative", "scale": {"type": "log", "domain": [0.1, 100], "nice": false}, "axis": {"orient": "top", "values": [0.2, 0.3, 0.4, 0.5, 0.6, 0.7, 0.8, 0.9, 2, 3, 4, 5, 6, 7, 8, 9, 20, 30, 40, 50, 60, 70, 80, 90], "offset": -3, "tickSize": 3, "labels": false, "title": null}},
    "y": {"field": "v", "type": "quantitative", "scale": {"domain": [-1, 6], "nice": false, "zero": false}, "axis": {"orient": "right", "values": [-0.75, -0.5, -0.25, 0.25, 0.5, 0.75, 1.25, 1.5, 1.75, 2.25, 2.5, 2.75, 3.25, 3.5, 3.75, 4.25, 4.5, 4.75, 5.25, 5.5, 5.75], "offset": -3, "tickSize": 3, "labels": false, "title": null}}
   }}
 ]},
{"hconcat": [
{"width": 351, "height": 269, "title": "Fermi-NVSS 1GeV",
 "resolve": {"axis": {"x": "independent", "y": "independent"}},
 "layer": [
  {"data": {"name": "c5"}, "mark": {"type": "line", "clip": true, "interpolate": "monotone", "strokeWidth": 1.5},
   "encoding": {
    "x": {"field": "x", "type": "quantitative", "scale": {"type": "log", "domain": [0.1, 100], "nice": false}, "axis": {"orient": "bottom", "values": [0.1, 1, 10, 100], "format": "~g", "offset": -6, "tickSize": 6, "labelPadding": 7, "title": "θ [deg]", "titlePadding": 9}},
    "y": {"field": "v", "type": "quantitative", "scale": {"domain": [-1, 6], "nice": false, "zero": false}, "axis": {"orient": "left", "values": [-1, 0, 1, 2, 3, 4, 5, 6], "labelExpr": "replace(format(datum.value,'d'),'\u2212','-')", "offset": -6, "tickSize": 6, "labelPadding": 8, "title": "10⁹CCF(θ) [(cm⁻²s⁻¹sr⁻¹)]", "titlePadding": 8}},
    "color": {"field": "m", "type": "nominal", "scale": {"domain": ["BLLacs1", "FSRQs", "SFGs1", "SFGs2"], "range": ["#000000", "#ff0000", "#0000ff", "#00e000"]}, "legend": {"legendX": 246, "legendY": 19}},
    "strokeDash": {"field": "m", "type": "nominal", "scale": {"domain": ["BLLacs1", "FSRQs", "SFGs1", "SFGs2"], "range": [[1, 0], [7, 4], [9, 3, 2, 3], [9, 3, 2, 3]]}, "legend": {"legendX": 246, "legendY": 19}}
   }},
  {"data": {"name": "d5"}, "mark": {"type": "errorbar", "color": "#ff8c00", "opacity": 0.8, "thickness": 1.8, "ticks": {"size": 6}, "clip": true},
   "encoding": {
    "x": {"field": "x", "type": "quantitative", "scale": {"type": "log", "domain": [0.1, 100], "nice": false}, "axis": {"orient": "bottom", "values": [0.2, 0.3, 0.4, 0.5, 0.6, 0.7, 0.8, 0.9, 2, 3, 4, 5, 6, 7, 8, 9, 20, 30, 40, 50, 60, 70, 80, 90], "offset": -3, "tickSize": 3, "labels": false, "title": null}},
    "y": {"field": "lo", "type": "quantitative", "scale": {"domain": [-1, 6], "nice": false, "zero": false}, "axis": {"orient": "left", "values": [-0.75, -0.5, -0.25, 0.25, 0.5, 0.75, 1.25, 1.5, 1.75, 2.25, 2.5, 2.75, 3.25, 3.5, 3.75, 4.25, 4.5, 4.75, 5.25, 5.5, 5.75], "offset": -3, "tickSize": 3, "labels": false, "title": null}},
    "y2": {"field": "hi"}
   }},
  {"data": {"name": "d5"}, "mark": {"type": "circle", "size": 22, "color": "#ff8c00", "opacity": 1, "clip": true},
   "encoding": {
    "x": {"field": "x", "type": "quantitative", "scale": {"type": "log", "domain": [0.1, 100], "nice": false}, "axis": {"orient": "top", "values": [0.1, 1, 10, 100], "offset": -6, "tickSize": 6, "labels": false, "title": null}},
    "y": {"field": "v", "type": "quantitative", "scale": {"domain": [-1, 6], "nice": false, "zero": false}, "axis": {"orient": "right", "values": [-1, 0, 1, 2, 3, 4, 5, 6], "offset": -6, "tickSize": 6, "labels": false, "title": null}}
   }},
  {"data": {"name": "d5"}, "mark": {"type": "point", "opacity": 0},
   "encoding": {
    "x": {"field": "x", "type": "quantitative", "scale": {"type": "log", "domain": [0.1, 100], "nice": false}, "axis": {"orient": "top", "values": [0.2, 0.3, 0.4, 0.5, 0.6, 0.7, 0.8, 0.9, 2, 3, 4, 5, 6, 7, 8, 9, 20, 30, 40, 50, 60, 70, 80, 90], "offset": -3, "tickSize": 3, "labels": false, "title": null}},
    "y": {"field": "v", "type": "quantitative", "scale": {"domain": [-1, 6], "nice": false, "zero": false}, "axis": {"orient": "right", "values": [-0.75, -0.5, -0.25, 0.25, 0.5, 0.75, 1.25, 1.5, 1.75, 2.25, 2.5, 2.75, 3.25, 3.5, 3.75, 4.25, 4.5, 4.75, 5.25, 5.5, 5.75], "offset": -3, "tickSize": 3, "labels": false, "title": null}}
   }}
 ]},
{"width": 352, "height": 269, "title": "Fermi-NVSS 10GeV",
 "resolve": {"axis": {"x": "independent", "y": "independent"}},
 "layer": [
  {"data": {"name": "c6"}, "mark": {"type": "line", "clip": true, "interpolate": "monotone", "strokeWidth": 1.5},
   "encoding": {
    "x": {"field": "x", "type": "quantitative", "scale": {"type": "log", "domain": [0.1, 100], "nice": false}, "axis": {"orient": "bottom", "values": [0.1, 1, 10, 100], "format": "~g", "offset": -6, "tickSize": 6, "labelPadding": 7, "title": "θ [deg]", "titlePadding": 9}},
    "y": {"field": "v", "type": "quantitative", "scale": {"domain": [-0.2, 1], "nice": false, "zero": false}, "axis": {"orient": "left", "values": [-0.2, 0, 0.2, 0.4, 0.6, 0.8, 1], "labelExpr": "replace(format(datum.value,'.1f'),'\u2212','-')", "offset": -6, "tickSize": 6, "labelPadding": 8, "title": "10⁹CCF(θ) [(cm⁻²s⁻¹sr⁻¹)]", "titlePadding": 8}},
    "color": {"field": "m", "type": "nominal", "scale": {"domain": ["BLLacs1", "FSRQs", "SFGs1", "SFGs2"], "range": ["#000000", "#ff0000", "#0000ff", "#00e000"]}, "legend": {"legendX": 246, "legendY": 19}},
    "strokeDash": {"field": "m", "type": "nominal", "scale": {"domain": ["BLLacs1", "FSRQs", "SFGs1", "SFGs2"], "range": [[1, 0], [7, 4], [9, 3, 2, 3], [9, 3, 2, 3]]}, "legend": {"legendX": 246, "legendY": 19}}
   }},
  {"data": {"name": "d6"}, "mark": {"type": "errorbar", "color": "#ff8c00", "opacity": 0.8, "thickness": 1.8, "ticks": {"size": 6}, "clip": true},
   "encoding": {
    "x": {"field": "x", "type": "quantitative", "scale": {"type": "log", "domain": [0.1, 100], "nice": false}, "axis": {"orient": "bottom", "values": [0.2, 0.3, 0.4, 0.5, 0.6, 0.7, 0.8, 0.9, 2, 3, 4, 5, 6, 7, 8, 9, 20, 30, 40, 50, 60, 70, 80, 90], "offset": -3, "tickSize": 3, "labels": false, "title": null}},
    "y": {"field": "lo", "type": "quantitative", "scale": {"domain": [-0.2, 1], "nice": false, "zero": false}, "axis": {"orient": "left", "values": [-0.1, 0.1, 0.3, 0.5, 0.7, 0.9], "offset": -3, "tickSize": 3, "labels": false, "title": null}},
    "y2": {"field": "hi"}
   }},
  {"data": {"name": "d6"}, "mark": {"type": "circle", "size": 22, "color": "#ff8c00", "opacity": 1, "clip": true},
   "encoding": {
    "x": {"field": "x", "type": "quantitative", "scale": {"type": "log", "domain": [0.1, 100], "nice": false}, "axis": {"orient": "top", "values": [0.1, 1, 10, 100], "offset": -6, "tickSize": 6, "labels": false, "title": null}},
    "y": {"field": "v", "type": "quantitative", "scale": {"domain": [-0.2, 1], "nice": false, "zero": false}, "axis": {"orient": "right", "values": [-0.2, 0, 0.2, 0.4, 0.6, 0.8, 1], "offset": -6, "tickSize": 6, "labels": false, "title": null}}
   }},
  {"data": {"name": "d6"}, "mark": {"type": "point", "opacity": 0},
   "encoding": {
    "x": {"field": "x", "type": "quantitative", "scale": {"type": "log", "domain": [0.1, 100], "nice": false}, "axis": {"orient": "top", "values": [0.2, 0.3, 0.4, 0.5, 0.6, 0.7, 0.8, 0.9, 2, 3, 4, 5, 6, 7, 8, 9, 20, 30, 40, 50, 60, 70, 80, 90], "offset": -3, "tickSize": 3, "labels": false, "title": null}},
    "y": {"field": "v", "type": "quantitative", "scale": {"domain": [-0.2, 1], "nice": false, "zero": false}, "axis": {"orient": "right", "values": [-0.1, 0.1, 0.3, 0.5, 0.7, 0.9], "offset": -3, "tickSize": 3, "labels": false, "title": null}}
   }}
 ]}
], "spacing": 106, "bounds": "flush", "resolve": {"scale": {"color": "independent", "strokeDash": "independent"}}}
], "spacing": 114, "bounds": "flush", "resolve": {"scale": {"color": "independent", "strokeDash": "independent"}}}
],
"spacing": 19,
"resolve": {"scale": {"color": "independent", "strokeDash": "independent"}}
}
